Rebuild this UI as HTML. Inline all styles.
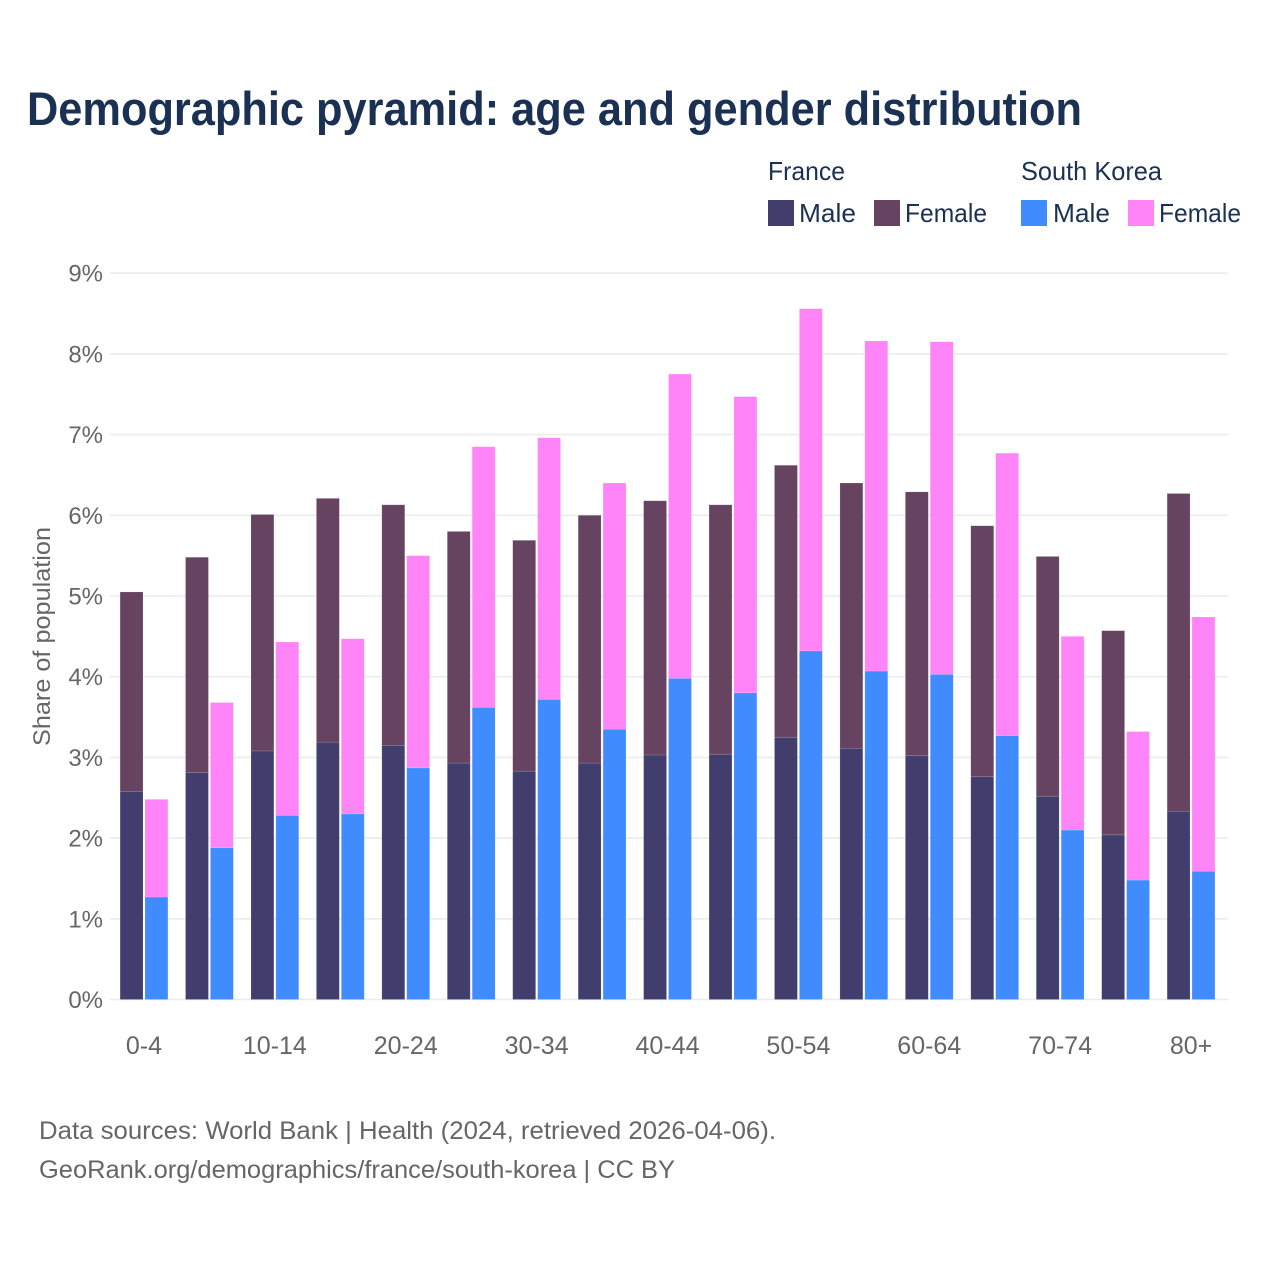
<!DOCTYPE html>
<html lang="en">
<head>
<meta charset="utf-8">
<title>Demographic pyramid: age and gender distribution</title>
<style>
html,body{margin:0;padding:0;background:#fff;width:1280px;height:1280px;overflow:hidden}
svg{display:block}
text{font-family:"Liberation Sans",sans-serif}
</style>
</head>
<body>
<svg id="chart" xmlns="http://www.w3.org/2000/svg" width="1280" height="1280" viewBox="0 0 1280 1280">
  <rect width="1280" height="1280" fill="#ffffff"/>
  <text x="27" y="125" font-size="47" font-weight="700" fill="#1b3153" textLength="1055" lengthAdjust="spacingAndGlyphs">Demographic pyramid: age and gender distribution</text>

  <g font-size="26" fill="#1b3153">
    <text x="768" y="180" textLength="77" lengthAdjust="spacingAndGlyphs">France</text>
    <text x="1021" y="180" textLength="141" lengthAdjust="spacingAndGlyphs">South Korea</text>
    <rect x="768" y="200" width="26" height="26" fill="#413e6e"/>
    <text x="799" y="222" textLength="57" lengthAdjust="spacingAndGlyphs">Male</text>
    <rect x="874" y="200" width="26" height="26" fill="#674362"/>
    <text x="905" y="222" textLength="82" lengthAdjust="spacingAndGlyphs">Female</text>
    <rect x="1021" y="200" width="26" height="26" fill="#408cff"/>
    <text x="1053" y="222" textLength="57" lengthAdjust="spacingAndGlyphs">Male</text>
    <rect x="1128" y="200" width="26" height="26" fill="#ff84f8"/>
    <text x="1159" y="222" textLength="82" lengthAdjust="spacingAndGlyphs">Female</text>
  </g>

  <g id="grid"></g>
  <g id="y-labels"></g>
  <g id="bars"></g>
  <g id="x-labels"></g>

  <text transform="translate(50,636.5) rotate(-90)" text-anchor="middle" font-size="24" fill="#666666" textLength="219" lengthAdjust="spacingAndGlyphs">Share of population</text>

  <text x="39" y="1139" font-size="25" fill="#666666" textLength="737" lengthAdjust="spacingAndGlyphs">Data sources: World Bank | Health (2024, retrieved 2026-04-06).</text>
  <text x="39" y="1178" font-size="25" fill="#666666" textLength="636" lengthAdjust="spacingAndGlyphs">GeoRank.org/demographics/france/south-korea | CC BY</text>
</svg>
<script>
const ageGroups = ["0-4","5-9","10-14","15-19","20-24","25-29","30-34","35-39","40-44","45-49","50-54","55-59","60-64","65-69","70-74","75-79","80+"];
const franceMale = [2.58,2.81,3.08,3.19,3.15,2.93,2.83,2.93,3.03,3.04,3.25,3.11,3.02,2.76,2.52,2.04,2.33];
const franceFemale = [2.47,2.67,2.93,3.02,2.98,2.87,2.86,3.07,3.15,3.09,3.37,3.29,3.27,3.11,2.97,2.53,3.94];
const koreaMale = [1.27,1.88,2.28,2.30,2.87,3.62,3.72,3.35,3.98,3.80,4.32,4.07,4.03,3.27,2.10,1.48,1.59];
const koreaFemale = [1.21,1.80,2.15,2.17,2.63,3.23,3.24,3.05,3.77,3.67,4.24,4.09,4.12,3.50,2.40,1.84,3.15];
const yTicks = [0,1,2,3,4,5,6,7,8,9];
const xTickLabels = ["0-4","10-14","20-24","30-34","40-44","50-54","60-64","70-74","80+"];

const NS = "http://www.w3.org/2000/svg";
const yScale = v => 999.5 - v * 80.7;
const groupCenter = i => 144 + i * 65.44;
const BAR_W = 22.9;
const BAR_GAP = 2;

function make(tag, parent, attrs) {
  const el = document.createElementNS(NS, tag);
  for (const k in attrs) el.setAttribute(k, attrs[k]);
  parent.appendChild(el);
  return el;
}

const gridG = document.getElementById("grid");
const yLabelG = document.getElementById("y-labels");
yTicks.forEach(t => {
  const line = make("line", gridG, {x1:110, x2:1228, y1:yScale(t), y2:yScale(t), stroke:"#ececec", "stroke-width":1.6});
  
  
  const label = make("text", yLabelG, {x:103, y:yScale(t)+8.5, "text-anchor":"end", "font-size":24, fill:"#666666"});
  
  
  label.textContent = t + "%";
});

const barsG = document.getElementById("bars");
function stackedBar(x, base, value, fill, name) {
  const top = yScale(base + value);
  const rect = make("rect", barsG, {x:x, y:top, width:BAR_W, height:yScale(base)-top, fill:fill, stroke:"#ffffff", "stroke-opacity":0.2, "stroke-width":0.6});
  
  
}
ageGroups.forEach((g, i) => {
  const c = groupCenter(i);
  const xF = c - BAR_GAP/2 - BAR_W;
  const xK = c + BAR_GAP/2;
  stackedBar(xF, 0, franceMale[i], "#413e6e", "bar-france-male");
  stackedBar(xF, franceMale[i], franceFemale[i], "#674362", "bar-france-female");
  stackedBar(xK, 0, koreaMale[i], "#408cff", "bar-korea-male");
  stackedBar(xK, koreaMale[i], koreaFemale[i], "#ff84f8", "bar-korea-female");
});

const xLabelG = document.getElementById("x-labels");
xTickLabels.forEach(lab => {
  const i = ageGroups.indexOf(lab);
  const label = make("text", xLabelG, {x:groupCenter(i), y:1054, "text-anchor":"middle", "font-size":25, fill:"#666666"});
  
  
  label.textContent = lab;
});
</script>
</body>
</html>
